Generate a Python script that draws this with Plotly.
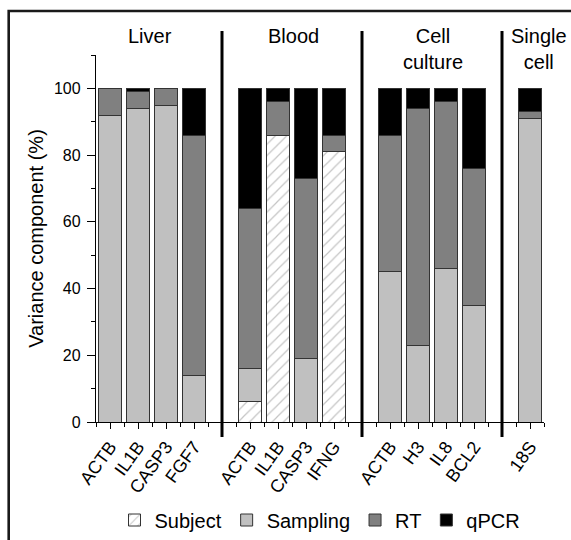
import plotly.graph_objects as go

# ---------------- data ----------------
groups = ["Liver", "Blood", "Cell<br>culture", "Single<br>cell"]
genes = [
    ["ACTB", "IL1B", "CASP3", "FGF7"],
    ["ACTB", "IL1B", "CASP3", "IFNG"],
    ["ACTB", "H3", "IL8", "BCL2"],
    ["18S"],
]
subject = [0, 0, 0, 0, 6, 86, 0, 81, 0, 0, 0, 0, 0]
sampling = [92, 94, 95, 14, 10, 0, 19, 0, 45, 23, 46, 35, 91]
rt = [8, 5, 5, 72, 48, 10, 54, 5, 41, 71, 50, 41, 2]
qpcr = [0, 1, 0, 14, 36, 4, 27, 14, 14, 6, 4, 24, 7]
y_ticks = [0, 20, 40, 60, 80, 100]

# ---------------- layout geometry ----------------
OFF = 0  # page body margin removed via post_script
W, H = 571, 540
L, T, PW, PH = 96, 55, 448, 367
R, B = W - L - PW, H - T - PH


def pxx(px):  # screen px -> paper x
    return (px - OFF - L) / PW


def pxy(py):  # screen px -> paper y
    return (OFF + T + PH - py) / PH


# positions derived from the group structure (one empty slot between groups)
xs, centers, seps, labels = [], [], [], []
pos = 0
for gi, g in enumerate(genes):
    start = pos + 1
    for name in g:
        pos += 1
        xs.append(pos)
        labels.append(name)
    centers.append((start + pos) / 2)
    if gi < len(genes) - 1:
        pos += 1
        seps.append(pos)

FONT = "Liberation Sans, Arial, sans-serif"
OUT = "#333333"

fig = go.Figure()
fig.add_bar(
    x=xs, y=subject, name="Subject",
    marker=dict(color="white",
                pattern=dict(shape="/", fgcolor="#8a8a8a", bgcolor="white", size=8, solidity=0.15),
                line=dict(color=OUT, width=1)),
)
fig.add_bar(x=xs, y=sampling, name="Sampling",
            marker=dict(color="#c0c0c0", line=dict(color=OUT, width=1)))
fig.add_bar(x=xs, y=rt, name="RT",
            marker=dict(color="#808080", line=dict(color=OUT, width=1)))
fig.add_bar(x=xs, y=qpcr, name="qPCR",
            marker=dict(color="#000000", line=dict(color=OUT, width=1)))

shapes = []
for s in seps:
    shapes.append(dict(type="line", xref="x", yref="paper", x0=s, x1=s,
                       y0=pxy(437), y1=pxy(31), line=dict(color="black", width=3)))
# outer frame
shapes.append(dict(type="rect", xref="paper", yref="paper",
                   x0=pxx(8.7), x1=pxx(590), y0=pxy(11), y1=pxy(560),
                   line=dict(color="#1a1a1a", width=2.6), fillcolor="rgba(0,0,0,0)"))

annotations = []
offsets = [-0.06, 0.07, 0.02, 0.33]
for gname, c, o in zip(groups, centers, offsets):
    annotations.append(dict(text=gname, x=c + o, xref="x", y=pxy(23), yref="paper",
                            yanchor="top", xanchor="center", showarrow=False,
                            font=dict(size=20, color="black", family=FONT)))

fig.update_layout(
    width=W, height=H,
    margin=dict(l=L, r=R, t=T, b=B, autoexpand=False),
    barmode="stack", bargap=0.2,
    plot_bgcolor="white", paper_bgcolor="white",
    font=dict(family=FONT, color="black"),
    shapes=shapes, annotations=annotations,
    showlegend=True,
    legend=dict(orientation="h", x=0.5, xanchor="center", y=pxy(520), yanchor="middle",
                traceorder="normal", font=dict(size=20, family=FONT),
                itemwidth=30, bgcolor="rgba(0,0,0,0)"),
)
fig.update_xaxes(
    range=[0.5, pos + 0.5], tickmode="array", tickvals=xs, ticktext=labels,
    tickangle=-54, tickfont=dict(size=18, family=FONT),
    ticks="outside", ticklen=6, tickcolor="black", tickwidth=1,
    minor=dict(ticks="outside", tick0=0.5, dtick=0.5, ticklen=4, tickcolor="black"),
    showline=True, linecolor="black", linewidth=1.3, showgrid=False, zeroline=False,
    automargin=False,
)
fig.update_yaxes(
    range=[0, 110], tickmode="array", tickvals=y_ticks,
    tickfont=dict(size=16, family=FONT), ticks="outside", ticklen=8, tickcolor="black",
    minor=dict(ticks="outside", tick0=0, dtick=10, ticklen=4, tickcolor="black"),
    ticklabelstandoff=3,
    title=dict(text="Variance component (%)", font=dict(size=20, family=FONT), standoff=4),
    showline=True, linecolor="black", linewidth=1.3, showgrid=False, zeroline=False,
    automargin=False,
)

fig.write_html(
    "out.html",
    config={"displayModeBar": False},
    post_script="document.body.style.margin='0';document.body.style.overflow='hidden';",
)
